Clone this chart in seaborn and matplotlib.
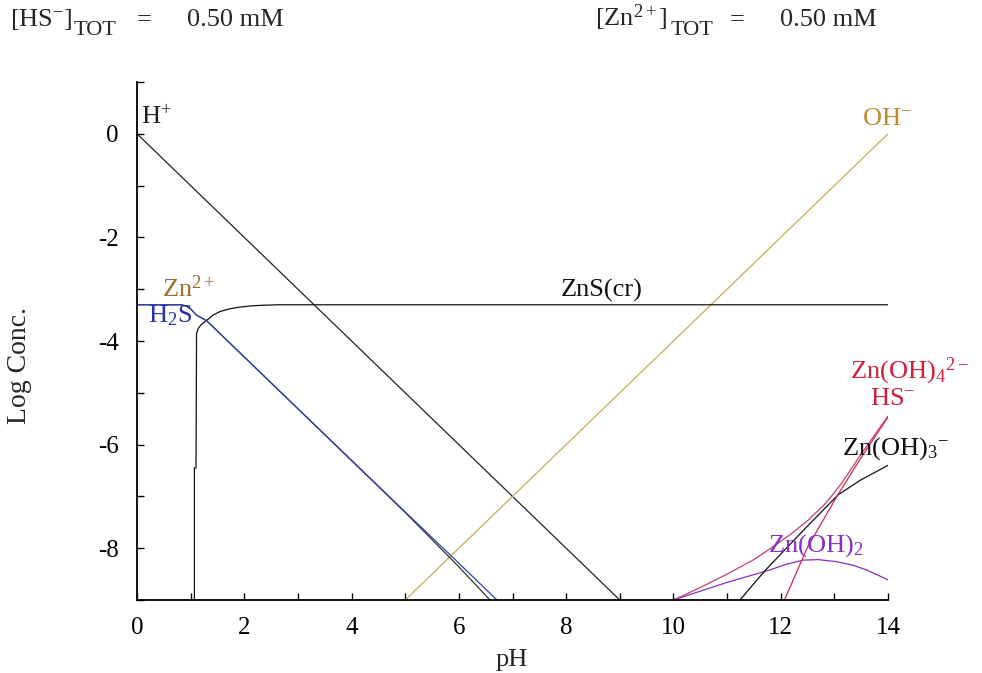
import numpy as np
import pandas as pd
import matplotlib
matplotlib.use("Agg")
import matplotlib.pyplot as plt
from matplotlib.ticker import MultipleLocator
import seaborn as sns

sns.set_style("ticks")
plt.rcParams["font.family"] = ["Liberation Serif", "DejaVu Serif"]
plt.rcParams["mathtext.fontset"] = "custom"
plt.rcParams["mathtext.rm"] = "Liberation Serif"
plt.rcParams["mathtext.it"] = "Liberation Serif:italic"
plt.rcParams["axes.unicode_minus"] = False

# Total concentrations (mM)
hs_tot_mM = 0.50
zn_tot_mM = 0.50
log_tot = np.log10(zn_tot_mM * 1e-3)

# Species curves: pH vs log concentration
h_ph = [0.0, 9.0]
h_log = [0.0, -9.0]

oh_ph = [5.0, 14.0]
oh_log = [-9.0, 0.0]

zns_ph = [1.07, 1.07, 1.10, 1.11, 1.14, 1.20, 1.30, 1.42, 1.55, 1.72, 1.92,
          2.15, 2.35, 2.60, 14.0]
zns_log = [-9.0, -6.45, -6.45, -3.86, -3.76, -3.68, -3.60, -3.50, -3.43, -3.38,
           -3.345, -3.32, -3.31, log_tot, log_tot]

zn_ph = [0.0, 0.83, 0.92, 1.00, 1.11, 1.30, 5.00, 6.00, 6.58]
zn_log = [log_tot, log_tot, -3.33, -3.38, -3.50, -3.61, -7.31, -8.36, -9.0]

h2s_ph = [0.0, 0.83, 0.92, 1.00, 1.11, 1.30, 5.00, 6.00, 6.71]
h2s_log = [log_tot, log_tot, -3.33, -3.38, -3.50, -3.61, -7.30, -8.29, -9.0]

znoh2_ph = [10.0, 10.5, 11.0, 11.5, 11.8, 12.1, 12.42, 12.7, 13.04, 13.35, 13.6, 14.0]
znoh2_log = [-9.0, -8.83, -8.66, -8.51, -8.42, -8.31, -8.23, -8.22, -8.26, -8.33,
             -8.42, -8.61]

hs_ph = [10.0, 10.5, 11.0, 11.5, 11.86, 12.2, 12.5, 12.85, 13.14, 13.5, 14.0]
hs_log = [-9.0, -8.76, -8.50, -8.22, -7.97, -7.72, -7.47, -7.12, -6.74, -6.18, -5.45]

znoh4_ph = [12.07, 12.5, 13.07, 13.5, 14.0]
znoh4_log = [-9.0, -7.98, -6.96, -6.25, -5.47]

znoh3_ph = [11.24, 11.71, 12.4, 13.07, 13.48, 14.0]
znoh3_log = [-9.0, -8.43, -7.68, -6.97, -6.69, -6.40]

curves = [
    ("H+", h_ph, h_log, "#222222"),
    ("OH-", oh_ph, oh_log, "#c8ad55"),
    ("ZnS(cr)", zns_ph, zns_log, "#111111"),
    ("Zn2+", zn_ph, zn_log, "#3a3430"),
    ("H2S", h2s_ph, h2s_log, "#3040b8"),
    ("Zn(OH)2", znoh2_ph, znoh2_log, "#8a2ec8"),
    ("HS-", hs_ph, hs_log, "#c8406a"),
    ("Zn(OH)3-", znoh3_ph, znoh3_log, "#111111"),
    ("Zn(OH)4 2-", znoh4_ph, znoh4_log, "#d02848"),
]

W, H = 982, 673
fig = plt.figure(figsize=(W / 100, H / 100), dpi=100)
ax = fig.add_axes([137 / W, 1 - 600 / H, (888 - 137) / W, (600 - 82) / H])

for name, xs, ys, col in curves:
    df = pd.DataFrame({"pH": xs, "logc": ys})
    sns.lineplot(data=df, x="pH", y="logc", sort=False, estimator=None,
                 color=col, lw=0.9, ax=ax)

ax.set_xlim(0, 14)
ax.set_ylim(-9, 1)
ax.xaxis.set_major_locator(MultipleLocator(2))
ax.xaxis.set_minor_locator(MultipleLocator(1))
ax.yaxis.set_minor_locator(MultipleLocator(1))
ax.set_yticks([-8, -6, -4, -2, 0])
ax.tick_params(which="both", direction="in", length=5, width=1.0, colors="black",
               labelsize=18)
ax.tick_params(axis="x", which="major", pad=12)
ax.tick_params(axis="y", which="major", pad=13)
sns.despine(ax=ax)
for s in ("left", "bottom"):
    ax.spines[s].set_linewidth(1.3)
    ax.spines[s].set_color("black")
ax.set_xlabel("")
ax.set_ylabel("")

fs = 19
lab = dict(fontsize=fs, va="baseline", ha="left")
ax.text(0.08, 0.19, r"$\mathrm{H}^{+}$", color="#222222", **lab)
ax.text(13.51, 0.17, r"$\mathrm{OH}^{-}$", color="#c08a30", **lab)
ax.text(0.46, -3.15, r"$\mathrm{Zn}^{2+}$", color="#a06a30", **lab)
ax.text(0.21, -3.64, r"$\mathrm{H}_{2}\mathrm{S}$", color="#2a30b0", **lab)
ax.text(7.89, -3.15, "ZnS(cr)", color="#111111", **lab)
ax.text(13.29, -4.73, r"$\mathrm{Zn(OH)}_{4}{}^{2-}$", color="#d0203c", **lab)
ax.text(13.67, -5.24, r"$\mathrm{HS}^{-}$", color="#d0203c", **lab)
ax.text(13.14, -6.20, r"$\mathrm{Zn(OH)}_{3}{}^{-}$", color="#111111", **lab)
ax.text(11.77, -8.07, r"$\mathrm{Zn(OH)}_{2}$", color="#8a2ec8", **lab)

# Header with total concentrations
top = 1 - 26 / H
sub = 1 - 35 / H
hdr = dict(fontsize=fs, va="baseline", ha="left")
fig.text(10 / W, top, r"$[\mathrm{HS}^{-}]$", **hdr)
fig.text(74 / W, sub, "TOT", fontsize=16, va="baseline", ha="left")
fig.text(137 / W, top, "=", **hdr)
fig.text(187 / W, top, "%.2f mM" % hs_tot_mM, **hdr)
fig.text(595 / W, top, r"$[\mathrm{Zn}^{2+}]$", **hdr)
fig.text(671 / W, sub, "TOT", fontsize=16, va="baseline", ha="left")
fig.text(730 / W, top, "=", **hdr)
fig.text(780 / W, top, "%.2f mM" % zn_tot_mM, **hdr)

fig.text(512 / W, 1 - 660 / H, "pH", fontsize=fs, ha="center", va="center")
fig.text(20 / W, 1 - 365 / H, "Log Conc.", fontsize=20, ha="center", va="center",
         rotation=90)

fig.savefig("out.png", dpi=100, facecolor="white")
